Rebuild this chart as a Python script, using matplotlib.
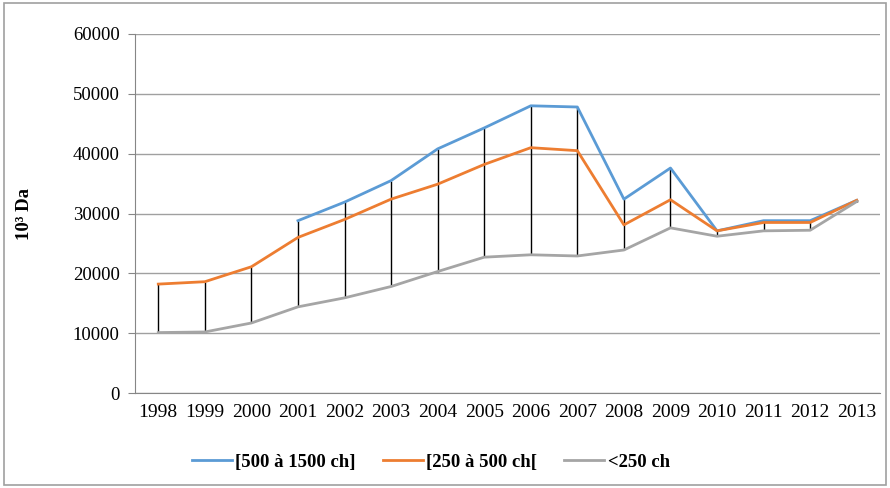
import numpy as np
import matplotlib
matplotlib.use("Agg")
import matplotlib.pyplot as plt
from matplotlib.patches import Rectangle

years = [str(y) for y in range(1998, 2014)]
s_500_1500 = [np.nan, np.nan, np.nan, 28.8, 31.9, 35.5, 40.8, 44.3, 48.0, 47.8,
              32.4, 37.6, 27.1, 28.8, 28.8, 32.2]
s_250_500 = [18.2, 18.6, 21.1, 26.0, 29.0, 32.4, 34.9, 38.2, 41.0, 40.5,
             28.1, 32.3, 27.1, 28.5, 28.5, 32.2]
s_lt250 = [10.1, 10.2, 11.7, 14.4, 15.9, 17.8, 20.3, 22.7, 23.1, 22.9,
           23.9, 27.6, 26.2, 27.1, 27.2, 32.0]
labels = ["[500 à 1500 ch]", "[250 à 500 ch[", "<250 ch"]
colors = ["#5B9BD5", "#ED7D31", "#A5A5A5"]

plt.rcParams['font.family'] = ['Liberation Serif', 'DejaVu Serif']

fig = plt.figure(figsize=(8.9, 4.88), dpi=100)
ax = fig.add_axes([135/890, 95/488, 745/890, 359/488])

x = np.arange(len(years))
data = np.array([s_500_1500, s_250_500, s_lt250]) * 1000
hi = np.nanmax(data, axis=0)
lo = np.nanmin(data, axis=0)
ax.vlines(x, lo, hi, color="black", lw=1.0, zorder=2)
for vals, lab, c in zip(data, labels, colors):
    ax.plot(x, vals, color=c, lw=2.0, label=lab, zorder=3)

ax.set_xlim(-0.5, len(years) - 0.5)
ax.set_ylim(0, 60000)
ax.set_yticks(np.arange(0, 60001, 10000))
ax.set_xticks(x)
ax.set_xticklabels(years)
ax.tick_params(axis='x', length=0, labelsize=14, pad=8)
ax.tick_params(axis='y', length=5, color="#868686", labelsize=13.5, pad=6)
ax.grid(axis='y', color="#A0A0A0", lw=1.0)
ax.set_axisbelow(True)
for s in ["top", "right"]:
    ax.spines[s].set_visible(False)
ax.spines["left"].set_color("#868686")
ax.spines["bottom"].set_color("#868686")
ax.set_ylabel("10³ Da", fontweight="bold", fontsize=13.5)
ax.yaxis.set_label_coords(-0.137, 0.5)

fig.legend(loc="center", bbox_to_anchor=(431/890, 1 - 462/488), ncol=3,
           frameon=False, prop={"weight": "bold", "size": 13.5},
           handlelength=2.1, columnspacing=1.45, handletextpad=0.2)

fig.patches.append(Rectangle((0.004, 0.006), 0.992, 0.988, transform=fig.transFigure,
                             fill=False, edgecolor="#A0A0A0", lw=1.2))

fig.savefig("out.png", dpi=100)
